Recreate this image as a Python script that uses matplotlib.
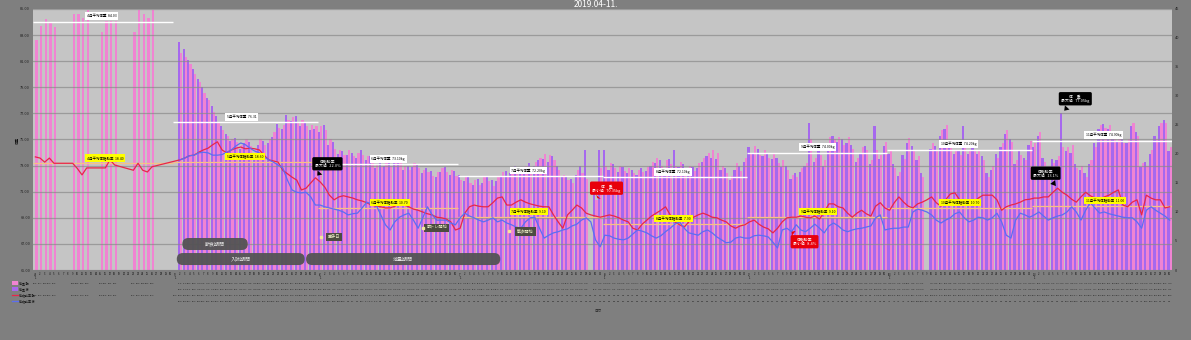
import numpy as np
import matplotlib
matplotlib.use('Agg')
import matplotlib.pyplot as plt
import matplotlib.transforms as mtransforms
from matplotlib.patches import FancyBboxPatch, Rectangle
from matplotlib.lines import Line2D

nan = np.nan

#%% DATA
months = [4, 5, 6, 7, 8, 9, 10, 11]
month_days = [30, 31, 30, 31, 31, 30, 31, 30]

# body weight, morning (pink bars)
apr_am = [82.6, 83.7, 84.2, 83.9, 83.6, nan, nan, nan, 84.6, 84.6, 84.3, 84.9, nan, nan, 83.2,
          84.1, 84.1, 84.1, nan, nan, nan, 83.2, 84.9, 84.6, 84.3, 84.9, nan, nan, nan, nan]
may_am = [nan, 81.6, 81.3, 80.8, 80.0, 79.4, 78.6, 78.0, 77.1, 76.3, 75.7, 75.3, 75.0, 74.8, 74.6, 75.0,
          74.5, 74.3, 75.0, 74.6, 75.0, 75.6, 75.9, 76.1, 76.5, 76.7, 76.3, 76.5, 76.0, 76.1, 76.0]
jun_am = [76.0, 75.7, 75.0, 74.3, 74.2, 73.8, 74.2, 73.7, 74.0, 73.8, 73.7, 73.4, 73.1, 72.9, 73.3,
          73.0, 73.6, 73.3, 73.0, 72.7, 73.2, 72.8, 72.7, 72.5, 72.2, 72.5, 72.8, 72.5, 72.7, 72.2]
jul_am = [71.9, 72.1, 71.7, 71.9, 71.5, 72.1, 71.8, 71.4, 72.2, 72.5, 72.2, 72.7, 72.8, 72.5, 73.0, 72.7,
          73.3, 73.6, 73.9, 73.8, 73.4, 72.7, 72.3, 71.9, 71.7, 72.7, 72.4, 72.0, nan, 70.35, 72.8]
aug_am = [73.0, 73.2, 72.8, 73.0, 72.6, 72.8, 72.4, 72.7, 72.5, 72.9, 73.3, 73.6, 73.0, 73.4, 73.1, 73.0,
          73.3, 72.8, 73.0, 72.6, 73.2, 73.6, 74.0, 74.2, 74.0, 73.0, 72.4, 72.2, 73.2, 72.6, 73.6]
sep_am = [74.0, 74.5, 73.8, 74.2, 73.6, 73.9, 73.2, 73.4, 72.7, 72.3, 72.1, 72.8, 73.2, 75.0, 73.6,
          73.8, 73.4, 75.2, 75.0, 75.2, 74.6, 75.2, 74.3, 73.6, 74.4, 74.2, 73.4, 74.2, 73.8, 74.8]
oct_am = [74.2, 72.8, 72.5, 73.5, 75.1, 74.2, 73.7, 72.1, nan, 74.7, 74.2, 75.7, 76.1, 74.6, 74.2, 73.8,
          74.9, 74.2, 74.2, 74.2, 73.4, 72.1, 73.0, 73.6, 74.7, 75.7, 74.8, 73.4, 73.8, 73.4, 74.9]
nov_am = [74.7, 75.6, 73.3, 73.0, 73.2, 73.7, 74.4, 74.4, 74.6, 72.8, 73.0, 72.1, 73.4, 74.4, 76.1,
          75.9, 76.1, 75.0, 75.1, 74.7, 75.0, 76.3, 75.3, 73.2, 73.0, 74.2, 75.0, 76.3, 76.3, 74.4]

# body weight, evening (purple bars)
apr_pm = [nan] * 30
may_pm = [nan, 82.5, 81.9, 81.1, 80.4, 79.6, 79.0, 78.2, 77.6, 76.8, 76.0, 75.4, 74.9, 75.1, 74.3, 74.7,
          74.8, 74.0, 74.6, 74.9, 74.7, 75.2, 76.2, 75.8, 76.9, 76.4, 76.8, 76.0, 76.3, 75.7, 75.8]
jun_pm = [75.6, 76.1, 74.6, 74.8, 73.9, 74.1, 73.8, 74.0, 73.6, 74.2, 73.4, 73.7, 72.8, 73.3, 73.0,
          73.4, 73.2, 73.6, 72.7, 73.0, 72.9, 73.1, 72.4, 72.8, 72.6, 72.1, 72.5, 72.9, 72.3, 72.6]
jul_pm = [72.3, 71.8, 72.2, 71.5, 72.0, 71.7, 72.2, 71.9, 71.8, 72.1, 72.6, 72.4, 73.0, 72.9, 72.6, 73.2,
          73.0, 73.4, 73.5, 73.3, 73.7, 73.0, 72.1, 72.2, 72.0, 72.3, 73.0, 74.2, nan, 71.2, 74.2]
aug_pm = [74.2, 72.7, 73.1, 72.5, 72.9, 72.4, 72.7, 72.3, 72.8, 72.6, 73.0, 73.2, 73.4, 72.8, 73.5, 74.2,
          72.9, 73.1, 72.6, 72.9, 72.8, 73.3, 73.7, 73.6, 73.5, 72.7, 72.8, 71.9, 72.7, 73.0, 73.3]
sep_pm = [74.4, 73.9, 74.3, 73.7, 74.0, 73.5, 73.6, 72.9, 73.0, 72.0, 72.4, 72.5, 73.0, 76.3, 73.3,
          74.1, 73.0, 74.7, 75.3, 74.8, 75.0, 74.7, 74.6, 73.3, 74.0, 74.5, 73.1, 76.0, 73.5, 74.5]
oct_pm = [73.9, 73.1, 72.2, 73.8, 74.7, 74.5, 73.4, 72.4, nan, 74.3, 74.5, 75.3, 75.8, 74.9, 73.9, 74.1,
          76.0, 73.9, 74.5, 73.9, 73.7, 72.4, 72.7, 73.9, 74.4, 75.4, 75.0, 73.1, 74.1, 73.6, 74.6]
nov_pm = [74.4, 75.3, 73.6, 72.7, 73.5, 73.4, 77.05, 74.1, 74.0, 73.1, 72.7, 72.4, 73.1, 74.7, 75.8,
          76.2, 75.8, 75.3, 74.8, 75.0, 74.7, 76.0, 75.6, 72.9, 73.3, 73.9, 75.3, 76.0, 76.5, 74.1]

# body fat, morning (red line)
apr_fat_am = [19.5, 19.3, 18.6, 19.3, 18.4, nan, nan, nan, 18.4, 17.5, 16.4, 17.6, nan, nan, 17.6,
              17.6, 19.0, 18.1, nan, nan, nan, 17.2, 18.4, 17.2, 16.9, 17.8, nan, nan, nan, nan]
may_fat_am = [18.8, 19.0, 19.3, 19.7, 19.8, 20.3, 20.7, 21.0, 21.6, 22.1, 20.7, 20.2, 20.7, 21.0, 21.2, 20.9,
              21.0, 20.9, 20.7, 19.8, 19.0, 18.8, 18.6, 17.2, 16.6, 16.0, 15.5, 13.8, 14.1, 15.0, 15.9]
jun_fat_am = [15.2, 14.3, 12.9, 12.1, 12.6, 12.8, 12.6, 12.4, 12.1, 11.9, 11.6, 11.2, 11.0, 10.9, 10.7,
              10.7, 11.0, 11.4, 11.2, 10.9, 10.5, 10.3, 10.0, 9.7, 9.5, 9.1, 9.0, 8.8, 8.3, 6.9]
jul_fat_am = [7.2, 9.8, 10.9, 11.2, 11.0, 10.9, 10.9, 11.6, 12.4, 12.6, 11.2, 11.2, 11.7, 12.1, 11.7, 11.4,
              11.2, 11.0, 10.9, 10.9, 9.5, 8.3, 7.2, 9.5, 10.3, 11.2, 10.7, 9.8, 9.5, 9.3, 9.1]
aug_fat_am = [9.3, 9.5, 9.3, 9.0, 8.6, 8.3, 7.2, 6.9, 7.9, 8.6, 9.3, 9.8, 10.3, 10.9, 9.5, 8.3,
              7.8, 7.4, 8.3, 9.1, 9.5, 9.8, 9.5, 9.1, 9.0, 8.6, 8.3, 7.6, 7.2, 7.6, 7.8]
sep_fat_am = [8.3, 8.6, 7.9, 7.4, 7.1, 6.4, 7.2, 8.3, 9.0, 9.1, 9.1, 9.3, 9.1, 9.0, 9.3,
              8.8, 10.0, 11.4, 11.4, 10.9, 10.7, 9.8, 9.1, 9.8, 10.3, 9.7, 9.3, 11.0, 11.6, 10.7]
oct_fat_am = [10.3, 11.6, 12.6, 11.7, 11.0, 10.7, 11.4, 11.7, 12.1, 12.6, 11.6, 11.0, 12.1, 13.1, 13.3, 12.1,
              11.6, 11.4, 11.6, 12.4, 12.9, 12.9, 12.9, 12.1, 10.3, 10.9, 11.2, 11.4, 11.7, 12.1, 12.2]
nov_fat_am = [12.4, 12.4, 12.6, 12.6, 13.4, 14.1, 13.4, 12.9, 12.2, 11.7, 12.6, 13.4, 12.8, 12.4, 12.2,
              12.6, 12.9, 13.4, 13.8, 11.2, 10.9, 11.7, 12.1, 9.5, 12.9, 12.4, 12.1, 12.1, 10.7, 10.9]

# body fat, evening (blue line)
apr_fat_pm = [nan] * 30
may_fat_pm = [nan, 19.0, 19.3, 19.7, 19.8, 20.2, 20.3, 20.2, 19.8, 19.8, 19.9, 20.3, 20.7, 21.4, 21.9, 21.6,
              21.0, 20.5, 20.2, 19.5, 19.0, 18.6, 18.1, 17.6, 15.5, 13.8, 13.4, 13.3, 13.4, 12.6, 11.2]
jun_fat_pm = [11.2, 10.9, 10.7, 10.5, 10.3, 10.0, 9.5, 9.7, 9.8, 10.7, 11.7, 11.4, 11.2, 9.5, 7.8,
              6.9, 8.3, 9.1, 9.5, 9.8, 8.6, 7.2, 9.0, 10.9, 9.5, 8.6, 8.6, 8.6, 8.1, 7.8]
jul_fat_pm = [9.0, 9.8, 9.3, 9.0, 8.6, 8.3, 8.6, 9.0, 8.3, 8.6, 8.1, 7.8, 7.4, 7.2, 8.3, 9.0,
              9.1, 7.2, 5.5, 6.0, 6.4, 6.6, 6.9, 7.1, 7.6, 7.9, 8.6, 9.0, 8.3, 5.2, 4.0]
aug_fat_pm = [6.0, 5.9, 5.5, 5.3, 5.2, 5.5, 6.2, 6.9, 6.7, 6.4, 5.9, 5.5, 5.9, 6.6, 7.2, 7.9,
              8.3, 7.2, 6.4, 6.2, 6.0, 6.6, 6.9, 6.4, 5.7, 5.2, 4.7, 4.8, 5.5, 5.7, 5.5]
sep_fat_pm = [5.5, 5.9, 6.0, 5.9, 5.7, 4.8, 3.8, 6.9, 7.2, 6.6, 7.8, 6.9, 6.6, 7.2, 7.9,
              7.2, 6.4, 7.6, 8.1, 7.6, 6.9, 6.6, 6.9, 7.1, 7.2, 7.4, 7.6, 9.0, 9.5, 6.9]
oct_fat_pm = [7.1, 7.2, 7.2, 7.4, 7.4, 10.0, 10.5, 10.3, 10.0, 9.5, 8.6, 8.1, 8.6, 9.0, 9.7, 10.0,
              9.0, 8.3, 8.6, 9.1, 9.0, 8.6, 9.0, 9.8, 8.3, 6.0, 5.5, 8.6, 9.8, 9.5, 9.1]
nov_fat_pm = [9.5, 10.0, 9.3, 8.6, 9.0, 9.3, 9.5, 10.0, 10.9, 10.0, 8.6, 10.3, 11.6, 10.7, 9.8,
              10.0, 9.7, 9.5, 9.3, 9.1, 9.0, 9.0, 8.3, 7.2, 10.3, 10.9, 10.3, 9.8, 9.3, 8.6]

# monthly averages (as drawn on the chart)
weight_avg = [84.03, 76.31, 73.10, 72.20, 72.10, 74.00, 74.20, 74.90]
fat_avg = [18.4, 18.6, 10.7, 9.1, 7.9, 9.1, 10.7, 11.0]

series_names = ['体重 朝', '体重 夜', '体脂肪率 朝', '体脂肪率 夜']
periods = ['断食期間', '入院期間', '減量期間']
events = ['空手日', '筋トレ開始', '散歩開始']

weight_am = np.array(apr_am + may_am + jun_am + jul_am + aug_am + sep_am + oct_am + nov_am)
weight_pm = np.array(apr_pm + may_pm + jun_pm + jul_pm + aug_pm + sep_pm + oct_pm + nov_pm)
fat_am = np.array(apr_fat_am + may_fat_am + jun_fat_am + jul_fat_am + aug_fat_am + sep_fat_am
                  + oct_fat_am + nov_fat_am)
fat_pm = np.array(apr_fat_pm + may_fat_pm + jun_fat_pm + jul_fat_pm + aug_fat_pm + sep_fat_pm
                  + oct_fat_pm + nov_fat_pm)

n_days = sum(month_days)
x = np.arange(n_days)
month_start = np.cumsum([0] + month_days[:-1])

#%% STYLE
plt.rcParams['font.family'] = ['Noto Sans CJK JP', 'DejaVu Sans']
BG = '#7f7f7f'
PLOT_BG = '#c5c5c5'
PINK = '#f084d2'
PURPLE = '#a668ee'
RED = '#e8264a'
BLUE = '#5b6ef2'

W, H = 1191, 340
fig = plt.figure(figsize=(W / 100, H / 100), dpi=100, facecolor=BG)
ax = fig.add_axes([33 / W, 1 - 270 / H, 1139 / W, 261 / H])
ax.set_facecolor(PLOT_BG)
ax2 = ax.twinx()

# bars
ax.bar(x - 0.235, weight_pm, width=0.47, color=PURPLE, linewidth=0, zorder=2)
ax.bar(x + 0.235, weight_am, width=0.47, color=PINK, linewidth=0, zorder=2)
ax.set_xlim(-0.5, n_days - 0.5)
ax.set_ylim(65, 85)
ax.set_yticks(np.arange(65, 86, 2))
ax.set_yticklabels(['%.2f' % v for v in np.arange(65, 86, 2)], fontsize=2.8, color='#222222')
ax.grid(axis='y', color='#8a8a8a', lw=0.9, alpha=0.7)
ax.set_axisbelow(False)

# lines
m = ~np.isnan(fat_am)
ax2.plot(x[m], fat_am[m], color=RED, lw=0.9, zorder=3)
m = ~np.isnan(fat_pm)
ax2.plot(x[m], fat_pm[m], color=BLUE, lw=0.9, zorder=3)
ax2.set_ylim(0, 45)
ax2.set_yticks(range(0, 46, 5))
ax2.set_yticklabels([str(v) for v in range(0, 46, 5)], fontsize=2.8, color='#222222')

for a in (ax, ax2):
    for s in a.spines.values():
        s.set_visible(False)
    a.tick_params(length=0, pad=2)

# x tick labels (day numbers)
day_labels = []
for mo, nd in zip(months, month_days):
    for d in range(1, nd + 1):
        day_labels.append('%d/\n%d' % (mo, d) if d == 1 else str(d))
ax.set_xticks(x)
ax.set_xticklabels(day_labels, fontsize=1.9, color='#111111', linespacing=0.9, va='top')
ax.tick_params(axis='x', pad=1.5)

# monthly averages
for i, mo in enumerate(months):
    k0 = month_start[i]
    k1 = k0 + month_days[i]
    ax.hlines(weight_avg[i], k0 - 0.5, k1 - 0.5, color='white', lw=1.0, zorder=4)
    unit = '' if i < 2 else 'kg'
    ax.annotate('%d月平均体重  %.2f%s' % (mo, weight_avg[i], unit), xy=(k0 + 11, weight_avg[i]),
                xytext=(0, 2.5), textcoords='offset points', ha='left', va='bottom',
                fontsize=2.5, color='black', zorder=5,
                bbox=dict(fc='white', ec='none', boxstyle='square,pad=0.5'))
    ax2.hlines(fat_avg[i], k0 - 0.5, k1 - 0.5, color='#f6c184', lw=0.9, zorder=2)
    ax2.annotate('%d月平均体脂肪率  %.2f' % (mo, fat_avg[i]), xy=(k0 + 11, fat_avg[i]),
                 xytext=(0, 2.5), textcoords='offset points', ha='left', va='bottom',
                 fontsize=2.5, color='black', zorder=5,
                 bbox=dict(fc='#ffff00', ec='none', boxstyle='square,pad=0.5'))


# callouts
def callout(a, text, k, val, dx, dy, color):
    a.annotate(text, xy=(k, val), xytext=(dx, dy), textcoords='offset pixels',
               ha='center', va='center', fontsize=2.8, color='white', linespacing=1.2, zorder=8,
               bbox=dict(boxstyle='round,pad=0.6,rounding_size=0.4', fc=color, ec='none'),
               arrowprops=dict(arrowstyle='wedge,tail_width=0.45,shrink_factor=0.5',
                               fc=color, ec='none', mutation_scale=10))


callout(ax2, '体脂肪率\n最大値   22.0%', 60, fat_am[60], 12, 14, 'black')
callout(ax, '体　重\n最小値   70.35kg', 120, weight_am[120], 11, 12, '#e8000b')
callout(ax2, '体脂肪率\n最小値   8.4%', 162, fat_pm[162], 13, -10, '#e8000b')
callout(ax2, '体脂肪率\n最大値   13.1%', 219, fat_am[219], -12, 15, 'black')
callout(ax, '体　重\n最大値   77.05kg', 220, weight_pm[220], 13, 14, 'black')

# event labels
blend = mtransforms.blended_transform_factory(ax.transData, ax.transAxes)
event_pos = [(64, 0.126, 61.2), (86, 0.161, 83.0), (105, 0.149, 101.5)]
for txt, (kc, yf, kd) in zip(events, event_pos):
    ax2.text(kc, yf, txt, transform=blend, ha='center', va='center', fontsize=3.0, color='#eeeec8',
             zorder=8, bbox=dict(fc='#4c4c40', ec='none', boxstyle='square,pad=0.5'))
    ax2.plot([kd], [yf], transform=blend, marker='s', ms=1.8, color='#f3e69a', zorder=8)

fig.canvas.draw()
px_day = ax.transData.transform((1, 0))[0] - ax.transData.transform((0, 0))[0]
pill_pos = [(38.5, 0.0996, 14.0), (44.0, 0.042, 27.4), (78.8, 0.042, 41.6)]
for txt, (kc, yf, wd) in zip(periods, pill_pos):
    xc = ax.transData.transform((kc, 0))[0]
    yc = ax.transAxes.transform((0, yf))[1]
    w = wd * px_day
    h = 12
    fig.add_artist(FancyBboxPatch((xc - w / 2, yc - h / 2), w, h,
                                  boxstyle='round,pad=0,rounding_size=6', fc='#545454', ec='none',
                                  alpha=0.95, transform=mtransforms.IdentityTransform()))
    fig.text(xc / W, yc / H, txt, ha='center', va='center', fontsize=3.6, color='#e0e0e0')

# data table below the axis
tbl = mtransforms.blended_transform_factory(ax.transData, fig.transFigure)
rows_y = [1 - 283 / H, 1 - 289 / H, 1 - 295 / H, 1 - 301 / H]
all_series = [weight_am, weight_pm, fat_am, fat_pm]
for vals, ry in zip(all_series, rows_y):
    for k in x:
        if not np.isnan(vals[k]):
            ax.text(k, ry, '%.1f' % vals[k], transform=tbl, ha='center', va='center',
                    fontsize=1.7, color='#111111', clip_on=False)

# legend keys of the table
key_colors = [PINK, PURPLE, RED, BLUE]
for i, (name, c, ry) in enumerate(zip(series_names, key_colors, rows_y)):
    if i < 2:
        fig.add_artist(Rectangle((12 / W, ry - 2 / H), 6 / W, 4 / H, fc=c, ec='none'))
    else:
        fig.add_artist(Line2D([12 / W, 18 / W], [ry, ry], color=c, lw=0.9))
    fig.text(19 / W, ry, name, ha='left', va='center', fontsize=2.2, color='#111111')

fig.text(18 / W, 1 - 140 / H, '体重', rotation=90, ha='center', va='center', fontsize=2.5,
         color='#111111')
fig.text(598 / W, 1 - 311 / H, '日付', ha='center', va='center', fontsize=2.5, color='#222222')
fig.text(0.5, 1 - 4.5 / H, '2019.04-11.', ha='center', va='center', fontsize=6, color='white')

fig.savefig('out.png', dpi=100, facecolor=BG)
